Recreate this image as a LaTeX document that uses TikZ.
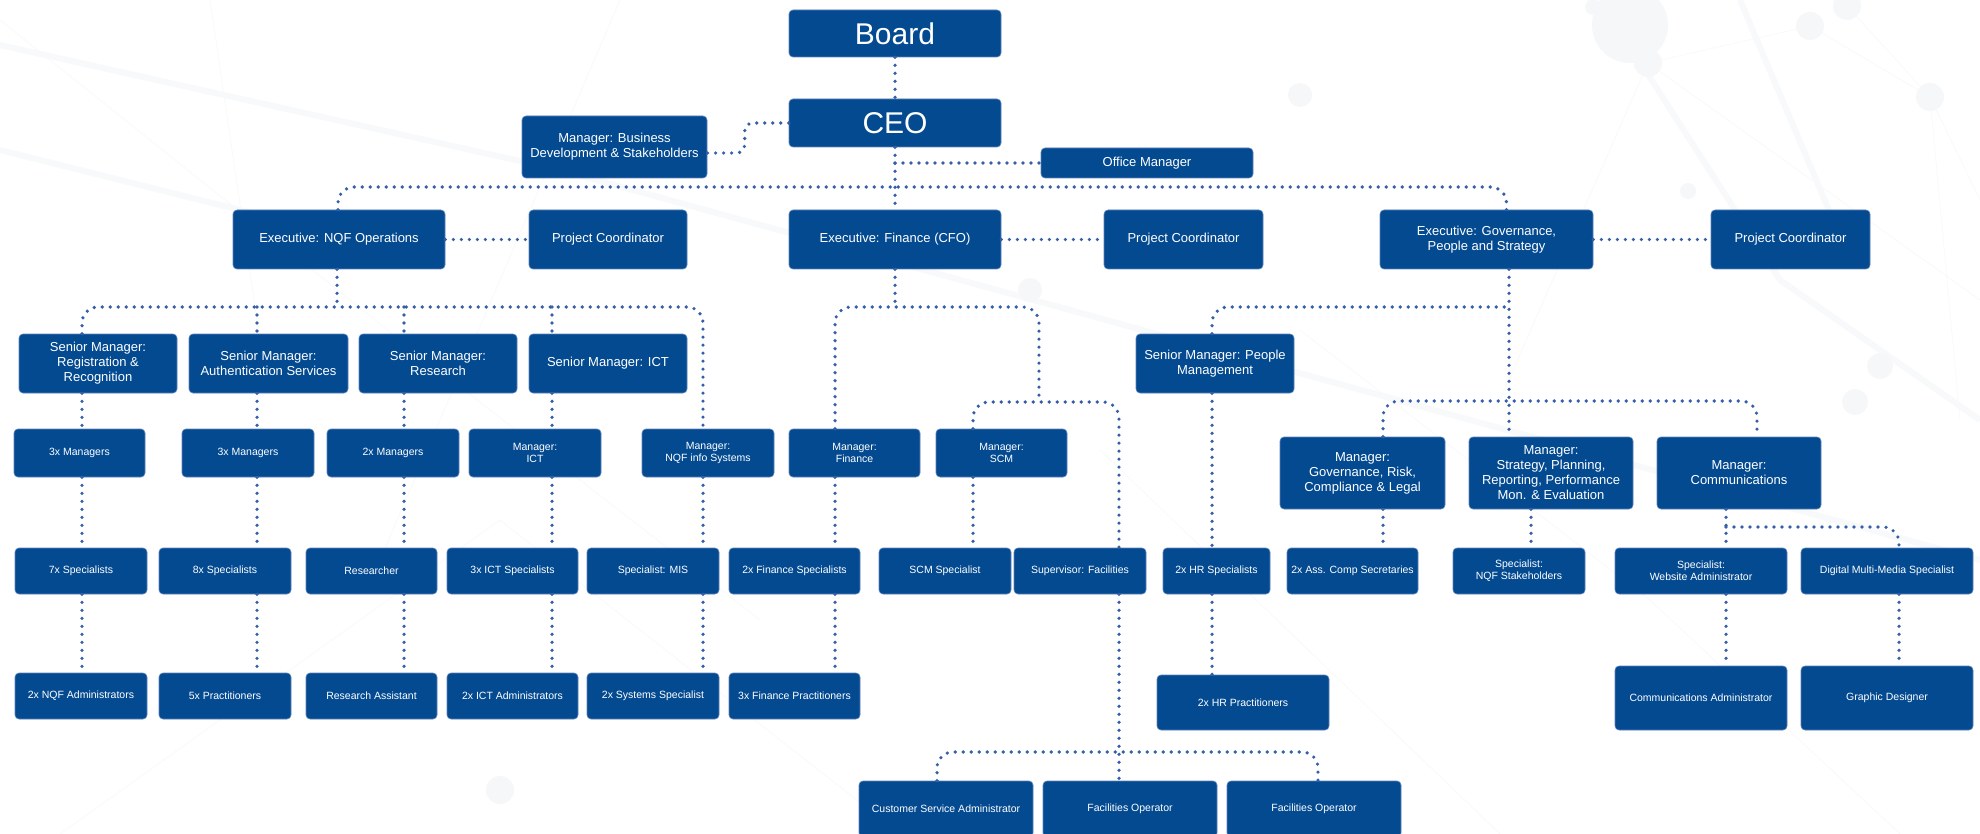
\documentclass[tikz,border=0pt]{standalone}
\usepackage{fontspec}
\setmainfont{Liberation Sans}
\usetikzlibrary{calc}
\definecolor{boxblue}{HTML}{034A91}
\definecolor{dotblue}{HTML}{3560A8}
\definecolor{boxedge}{HTML}{5F82BA}
\definecolor{bgline}{HTML}{F8F9FA}
\definecolor{bgfill}{HTML}{F6F7F9}
\begin{document}
\begin{tikzpicture}[x=1pt,y=-1pt,
  bx/.style={fill=boxblue, draw=boxedge, line width=0.6pt, rounded corners=4pt, text=white, align=center, inner sep=2pt},
  big/.style={bx, font=\fontsize{30}{34}\selectfont},
  med/.style={bx, font=\fontsize{13}{15}\selectfont},
  sml/.style={bx, font=\fontsize{10.5}{12}\selectfont},
  wh/.style 2 args={minimum width=#1pt, minimum height=#2pt},
  conn/.style={draw=dotblue, line width=3.6pt, dash pattern=on 0pt off 8pt, line cap=round},
  rc/.style={rounded corners=16pt},
  bgthin/.style={draw=bgline, line width=0.7pt},
  bgwide/.style={draw=bgline, line width=6pt},
  bgdot/.style={fill=bgfill}]
\fill[white] (0,0) rectangle (1980,834);
\useasboundingbox (0,0) rectangle (1980,834);
\clip (0,0) rectangle (1980,834);

% ---- faint background texture ----
\draw[bgwide] (0,45) -- (560,170) -- (1980,560);
\draw[bgwide] (0,150) -- (300,225);
\draw[bgwide] (1600,0) -- (1780,280) -- (1980,420);
\draw[bgwide] (1740,0) -- (1850,260);
\draw[bgthin] (0,20) -- (400,340) -- (760,620);
\draw[bgthin] (210,0) -- (260,340);
\draw[bgthin] (620,0) -- (380,560);
\draw[bgthin] (1648,63) -- (1500,400);
\draw[bgthin] (1648,63) -- (1980,300);
\draw[bgthin] (1648,63) -- (1810,26);
\draw[bgthin] (1810,26) -- (1930,97) -- (1980,200);
\draw[bgthin] (1847,6) -- (1930,97);
\draw[bgthin] (1930,97) -- (1960,420);
\draw[bgthin] (1300,330) -- (1650,600) -- (1900,834);
\draw[bgthin] (1100,450) -- (1500,834);
\draw[bgthin] (60,834) -- (500,520) -- (900,834);
\fill[bgdot] (1648,63) circle (14);
\fill[bgdot] (1810,26) circle (14);
\fill[bgdot] (1847,6) circle (14);
\fill[bgdot] (1930,97) circle (14);
\fill[bgdot] (1688,191) circle (8);
\fill[bgdot] (1593,7) circle (8);
\fill[bgdot] (1630,25) circle (38);
\fill[bgdot] (1880,366) circle (13);
\fill[bgdot] (1855,402) circle (13);
\fill[bgdot] (1300,95) circle (12);
\fill[bgdot] (1030,290) circle (12);
\fill[bgdot] (290,232) circle (12);
\fill[bgdot] (500,790) circle (14);

% ---- nodes ----
\node[big, wh={212}{47}] (board) at (895,33.5) {Board};
\node[big, wh={212}{48}] (ceo) at (895,123) {CEO};
\node[med, wh={185}{62}] (bd) at (614.5,147) {Manager: Business\\Development \& Stakeholders};
\node[med, wh={212}{30}] (om) at (1147,163) {Office Manager};

\node[med, wh={212}{59}] (enqf) at (339,239.5) {Executive: NQF Operations};
\node[med, wh={158}{59}] (pc1) at (608,239.5) {Project Coordinator};
\node[med, wh={212}{59}] (efin) at (895,239.5) {Executive: Finance (CFO)};
\node[med, wh={159}{59}] (pc2) at (1183.5,239.5) {Project Coordinator};
\node[med, wh={213}{59}] (egov) at (1486.5,239.5) {Executive: Governance,\\People and Strategy};
\node[med, wh={159}{59}] (pc3) at (1790.5,239.5) {Project Coordinator};

\node[med, wh={158}{59}] (smreg) at (98,363.5) {Senior Manager:\\Registration \&\\Recognition};
\node[med, wh={159}{59}] (smauth) at (268.5,363.5) {Senior Manager:\\Authentication Services};
\node[med, wh={158}{59}] (smres) at (438,363.5) {Senior Manager:\\Research};
\node[med, wh={158}{59}] (smict) at (608,363.5) {Senior Manager: ICT};
\node[med, wh={158}{59}] (smpeople) at (1215,363.5) {Senior Manager: People\\Management};

\node[sml, wh={131}{48}] (m3a) at (79.5,453) {3x Managers};
\node[sml, wh={132}{48}] (m3b) at (248,453) {3x Managers};
\node[sml, wh={132}{48}] (m2) at (393,453) {2x Managers};
\node[sml, wh={132}{48}] (mict) at (535,453) {Manager:\\ICT};
\node[sml, wh={132}{48}] (nqfinfo) at (708,453) {Manager:\\NQF info Systems};
\node[sml, wh={131}{48}] (mfin) at (854.5,453) {Manager:\\Finance};
\node[sml, wh={131}{48}] (mscm) at (1001.5,453) {Manager:\\SCM};

\node[med, wh={165}{72}] (mgov) at (1362.5,473) {Manager:\\Governance, Risk,\\Compliance \& Legal};
\node[med, wh={164}{72}] (strat) at (1551,473) {Manager:\\Strategy, Planning,\\Reporting, Performance\\Mon. \& Evaluation};
\node[med, wh={164}{72}] (mcomms) at (1739,473) {Manager:\\Communications};

\node[sml, wh={132}{46}] (spec7) at (81,571) {7x Specialists};
\node[sml, wh={132}{46}] (spec8) at (225,571) {8x Specialists};
\node[sml, wh={131}{46}] (researcher) at (371.5,571) {Researcher};
\node[sml, wh={131}{46}] (ictspec) at (512.5,571) {3x ICT Specialists};
\node[sml, wh={132}{46}] (mis) at (653,571) {Specialist: MIS};
\node[sml, wh={131}{46}] (finspec) at (794.5,571) {2x Finance Specialists};
\node[sml, wh={132}{46}] (scmspec) at (945,571) {SCM Specialist};
\node[sml, wh={132}{46}] (supfac) at (1080,571) {Supervisor: Facilities};
\node[sml, wh={107}{46}] (hrspec) at (1216.5,571) {2x HR Specialists};
\node[sml, wh={131}{46}] (asscomp) at (1352.5,571) {2x Ass. Comp Secretaries};
\node[sml, wh={132}{46}] (nqfstake) at (1519,571) {Specialist:\\NQF Stakeholders};
\node[sml, wh={172}{46}] (webadmin) at (1701,571) {Specialist:\\Website Administrator};
\node[sml, wh={172}{46}] (dmm) at (1887,571) {Digital Multi-Media Specialist};

\node[sml, wh={132}{46}] (nqfadmin) at (81,696) {2x NQF Administrators};
\node[sml, wh={132}{46}] (pract5) at (225,696) {5x Practitioners};
\node[sml, wh={131}{46}] (resasst) at (371.5,696) {Research Assistant};
\node[sml, wh={131}{46}] (ictadmin) at (512.5,696) {2x ICT Administrators};
\node[sml, wh={132}{46}] (sysspec) at (653,696) {2x Systems Specialist};
\node[sml, wh={131}{46}] (finpract) at (794.5,696) {3x Finance Practitioners};

\node[sml, wh={172}{55}] (hrpract) at (1243,702.5) {2x HR Practitioners};
\node[sml, wh={172}{64}] (commsadmin) at (1701,698) {Communications Administrator};
\node[sml, wh={172}{64}] (graphic) at (1887,698) {Graphic Designer};

\node[sml, wh={174}{56}] (csa) at (946,809) {Customer Service Administrator};
\node[sml, wh={174}{56}] (fo1) at (1130,809) {Facilities Operator};
\node[sml, wh={174}{56}] (fo2) at (1314,809) {Facilities Operator};

% ---- column coordinates ----
\coordinate (c1) at (82,0);
\coordinate (c2) at (257,0);
\coordinate (c3) at (404,0);
\coordinate (c4) at (552,0);
\coordinate (c5) at (703,0);
\coordinate (c6) at (835,0);
\coordinate (c7) at (973,0);
\coordinate (c8) at (1119,0);
\coordinate (c9) at (1212,0);
\coordinate (c10) at (1509,0);
\coordinate (c13) at (937,0);
\coordinate (c14) at (1318,0);
\coordinate (c15) at (1383,0);
\coordinate (c16) at (1757,0);
\coordinate (c17) at (1531,0);
\coordinate (c18) at (1726,0);
\coordinate (c19) at (1899,0);

% ---- connectors ----
\draw[conn] (board.south) -- (ceo.north);
\draw[conn] (ceo.south) -- (efin.north);
\draw[conn, rounded corners=8pt] (ceo.west) -- ++(-44,0) |- ([yshift=-6pt]bd.east);
\draw[conn] (ceo.south |- om.west) -- (om.west);

\coordinate (h187) at (895,187);
\draw[conn, rc] ([xshift=-1pt]enqf.north) |- (h187) -| ([xshift=20pt]egov.north);

\draw[conn] (enqf.east) -- (pc1.west);
\draw[conn] (efin.east) -- (pc2.west);
\draw[conn] (egov.east) -- (pc3.west);

% NQF operations branch
\coordinate (h307a) at (337,307);
\draw[conn] (enqf.south -| h307a) -- (h307a);
\draw[conn, rc] (smreg.north -| c1) |- (h307a) -| (nqfinfo.north -| c5);
\draw[conn] (c2 |- h307a) -- (smauth.north -| c2);
\draw[conn] (c3 |- h307a) -- (smres.north -| c3);
\draw[conn] (c4 |- h307a) -- (smict.north -| c4);

\foreach \a/\b/\c in {smreg/m3a/c1, m3a/spec7/c1, spec7/nqfadmin/c1,
                      smauth/m3b/c2, m3b/spec8/c2, spec8/pract5/c2,
                      smres/m2/c3, m2/researcher/c3, researcher/resasst/c3,
                      smict/mict/c4, mict/ictspec/c4, ictspec/ictadmin/c4,
                      nqfinfo/mis/c5, mis/sysspec/c5,
                      mfin/finspec/c6, finspec/finpract/c6,
                      mscm/scmspec/c7, supfac/fo1/c8,
                      smpeople/hrspec/c9, hrspec/hrpract/c9,
                      mgov/asscomp/c15, strat/nqfstake/c17,
                      mcomms/webadmin/c18, webadmin/commsadmin/c18,
                      dmm/graphic/c19}
  \draw[conn] (\a.south -| \c) -- (\b.north -| \c);

% Finance branch
\coordinate (h307b) at (895,307);
\coordinate (h402) at (1039,402);
\draw[conn] (efin.south) -- (h307b);
\draw[conn, rc] (mfin.north -| c6) |- (h307b) -| (h402);
\draw[conn, rc] (mscm.north -| c7) |- (h402) -| (supfac.north -| c8);
\coordinate (h752) at (1119,752);
\draw[conn, rc] (csa.north -| c13) |- (h752) -| (fo2.north -| c14);

% Governance branch
\draw[conn] (egov.south -| c10) -- (strat.north -| c10);
\coordinate (h307c) at (1509,307);
\draw[conn, rc] (smpeople.north -| c9) |- (h307c);
\coordinate (h401) at (1509,401);
\draw[conn, rc] (mgov.north -| c15) |- (h401) -| (mcomms.north -| c16);
\coordinate (h527) at (1726,527);
\draw[conn, rc] (h527) -| (dmm.north -| c19);
\end{tikzpicture}
\end{document}
